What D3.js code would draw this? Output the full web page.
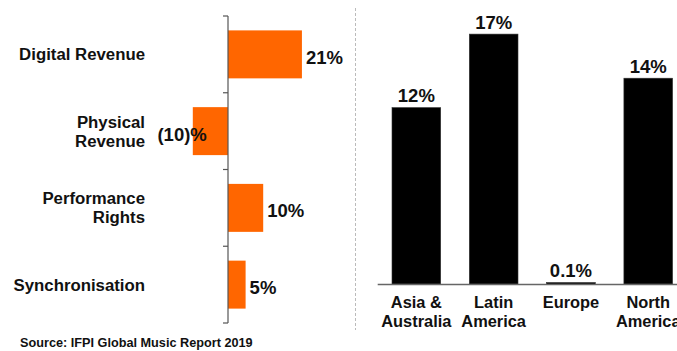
<!DOCTYPE html>
<html>
<head>
<meta charset="utf-8">
<script src="https://cdn.jsdelivr.net/npm/d3@7"></script>
<style>
  html, body { margin: 0; padding: 0; background: #fff; }
  svg { display: block; }
  text { font-family: "Liberation Sans", Arial, Helvetica, sans-serif; font-weight: bold; fill: #111; }
</style>
</head>
<body>
<svg id="chart" width="677" height="351"></svg>
<script>
// Revenue growth by stream (left) and by region (right), percent
const streams = [["Digital Revenue"], ["Physical", "Revenue"], ["Performance", "Rights"], ["Synchronisation"]];
const streamGrowth = [21, -10, 10, 5];
const streamLabels = ["21%", "(10)%", "10%", "5%"];

const regions = [["Asia &", "Australia"], ["Latin", "America"], ["Europe"], ["North", "America"]];
const regionGrowth = [12, 17, 0.1, 14];
const regionLabels = ["12%", "17%", "0.1%", "14%"];

const source = "Source: IFPI Global Music Report 2019";

const svg = d3.select("#chart");
const ORANGE = "#ff6600";

// ---------- left panel: horizontal bars ----------
const L = { axisX: 228, top: 16, bottom: 323 };
const xL = d3.scaleLinear().domain([-12, 22]).range([L.axisX - 12 * 3.52, L.axisX + 22 * 3.52]);
const yL = d3.scaleBand()
  .domain(d3.range(streams.length))
  .range([L.top, L.bottom])
  .paddingInner(0.375)
  .paddingOuter(0.1875);

const left = svg.append("g");

left.selectAll("rect.bar")
  .data(streamGrowth)
  .join("rect")
  .attr("class", "bar")
  .attr("x", d => xL(Math.min(0, d)))
  .attr("width", d => Math.abs(xL(d) - xL(0)))
  .attr("y", (d, i) => yL(i))
  .attr("height", yL.bandwidth())
  .attr("fill", ORANGE);

// vertical axis with ticks between categories
const axisG = left.append("g").attr("stroke", "#555").attr("stroke-width", 1.2);
axisG.append("line")
  .attr("x1", xL(0)).attr("x2", xL(0))
  .attr("y1", L.top).attr("y2", L.bottom);
axisG.selectAll("line.tick")
  .data(d3.range(streams.length + 1))
  .join("line")
  .attr("class", "tick")
  .attr("x1", xL(0) - 5).attr("x2", xL(0))
  .attr("y1", i => L.top + i * yL.step())
  .attr("y2", i => L.top + i * yL.step());

// category labels
left.selectAll("text.cat")
  .data(streams)
  .join("text")
  .attr("class", "cat")
  .attr("text-anchor", "end")
  .attr("font-size", 16.8)
  .each(function (lines, i) {
    const cy = yL(i) + yL.bandwidth() / 2;
    const t = d3.select(this);
    const y0 = cy + 6 - (lines.length - 1) * 19 / 2;
    lines.forEach((s, k) => {
      t.append("tspan").attr("x", 145).attr("y", y0 + k * 19).text(s);
    });
  });

// value labels
left.selectAll("text.val")
  .data(streamGrowth)
  .join("text")
  .attr("class", "val")
  .attr("font-size", 18.5)
  .attr("text-anchor", d => d < 0 ? "end" : "start")
  .attr("x", d => d < 0 ? xL(d) + 14 : xL(d) + 4)
  .attr("y", (d, i) => yL(i) + yL.bandwidth() / 2 + 9.5)
  .text((d, i) => streamLabels[i]);

// source note
svg.append("text")
  .attr("x", 20).attr("y", 346.5)
  .attr("font-size", 12.7)
  .text(source);

// dashed separator
svg.append("line")
  .attr("x1", 355.5).attr("x2", 355.5)
  .attr("y1", 8).attr("y2", 330)
  .attr("stroke", "#bbb").attr("stroke-width", 1)
  .attr("stroke-dasharray", "3,2");

// ---------- right panel: vertical bars ----------
const R = { base: 284 };
const xR = d3.scaleBand()
  .domain(d3.range(regions.length))
  .range([377.7, 686.9])
  .paddingInner(0.37)
  .paddingOuter(0.185);
const yR = d3.scaleLinear().domain([0, 18]).range([R.base, R.base - 18 * 14.7]);

const right = svg.append("g");

right.selectAll("rect.bar")
  .data(regionGrowth)
  .join("rect")
  .attr("class", "bar")
  .attr("x", (d, i) => xR(i))
  .attr("width", xR.bandwidth())
  .attr("y", d => yR(d))
  .attr("height", d => yR(0) - yR(d))
  .attr("fill", "#000")
  .attr("stroke", "#333")
  .attr("stroke-width", 0.6);

// baseline
right.append("line")
  .attr("x1", xR.range()[0]).attr("x2", xR.range()[1])
  .attr("y1", yR(0) + 0.5).attr("y2", yR(0) + 0.5)
  .attr("stroke", "#666").attr("stroke-width", 1.5);

right.selectAll("text.val")
  .data(regionGrowth)
  .join("text")
  .attr("class", "val")
  .attr("font-size", 18.5)
  .attr("text-anchor", "middle")
  .attr("x", (d, i) => xR(i) + xR.bandwidth() / 2)
  .attr("y", d => yR(d) - 5.5)
  .text((d, i) => regionLabels[i]);

right.selectAll("text.cat")
  .data(regions)
  .join("text")
  .attr("class", "cat")
  .attr("text-anchor", "middle")
  .attr("font-size", 16.4)
  .each(function (lines, i) {
    const cx = xR(i) + xR.bandwidth() / 2;
    const t = d3.select(this);
    lines.forEach((s, k) => {
      t.append("tspan").attr("x", cx).attr("y", 308 + k * 19).text(s);
    });
  });
</script>
</body>
</html>
